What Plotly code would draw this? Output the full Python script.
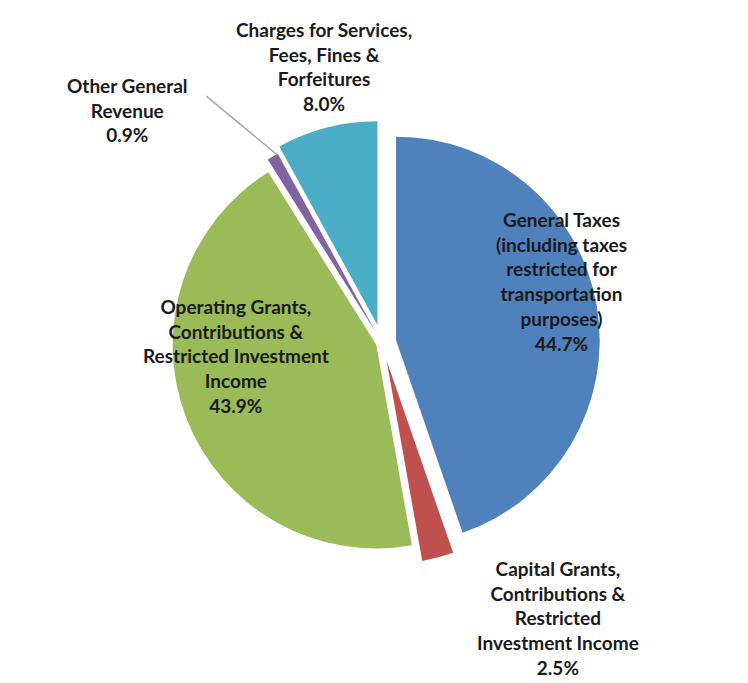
import plotly.graph_objects as go

categories = [
    "General Taxes (including taxes restricted for transportation purposes)",
    "Capital Grants, Contributions & Restricted Investment Income",
    "Operating Grants, Contributions & Restricted Investment Income",
    "Other General Revenue",
    "Charges for Services, Fees, Fines & Forfeitures",
]
label_lines = [
    ["General Taxes", "(including taxes", "restricted for", "transportation", "purposes)"],
    ["Capital Grants,", "Contributions &", "Restricted", "Investment Income"],
    ["Operating Grants,", "Contributions &", "Restricted Investment", "Income"],
    ["Other General", "Revenue"],
    ["Charges for Services,", "Fees, Fines &", "Forfeitures"],
]
values = [44.7, 2.5, 43.9, 0.9, 8.0]
colors = ["#4F81BD", "#C0504D", "#9BBB59", "#8064A2", "#4BACC6"]
pulls = [0.07, 0.09, 0.03, 0.06, 0.09]

fig = go.Figure()
fig.add_trace(go.Pie(
    labels=categories,
    values=values,
    sort=False,
    direction="clockwise",
    rotation=0,
    pull=pulls,
    marker=dict(colors=colors, line=dict(width=0)),
    textinfo="none",
    hoverinfo="label+percent",
    domain=dict(x=[0.0, 1.0], y=[0.185, 0.835]),
    showlegend=False,
))

# label positions (paper coords) for each slice
label_pos = [(0.74, 0.60), (0.735, 0.107), (0.305, 0.49), (0.16, 0.851), (0.422, 0.914)]
font = dict(family="Lato, 'Open Sans', sans-serif", size=19, color="#1a1a1a")
for lines, v, (x, y) in zip(label_lines, values, label_pos):
    txt = "<br>".join("<b>%s</b>" % s for s in lines) + "<br><b>%.1f%%</b>" % v
    fig.add_annotation(x=x, y=y, xref="paper", yref="paper", text=txt,
                       xanchor="center", yanchor="middle",
                       showarrow=False, font=font, align="center")

# leader line for Other General Revenue
fig.add_shape(type="line", xref="paper", yref="paper",
              x0=0.265, y0=0.871, x1=0.36, y1=0.785,
              line=dict(color="#A6A6A6", width=1.5))

fig.update_layout(
    width=748, height=683,
    margin=dict(l=0, r=0, t=0, b=0),
    paper_bgcolor="white",
    plot_bgcolor="white",
)
fig.write_html("out.html")
